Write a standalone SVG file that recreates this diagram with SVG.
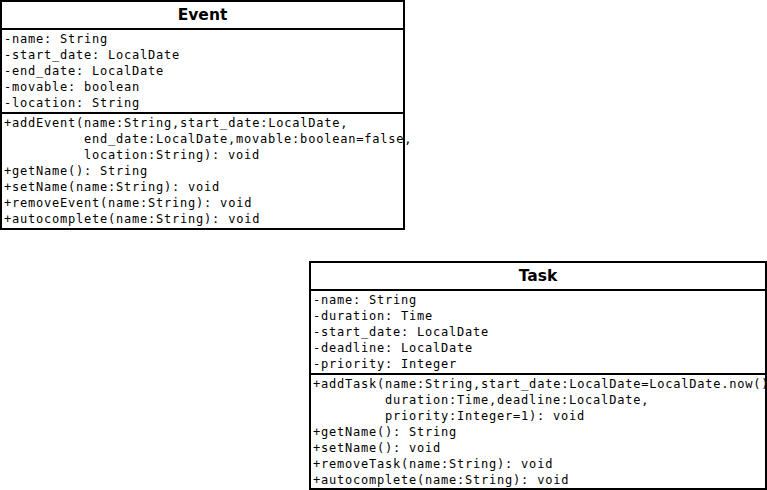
<svg xmlns="http://www.w3.org/2000/svg" width="767" height="490" viewBox="0 0 767 490">
<style>
.box{fill:#fff;stroke:#000;stroke-width:2}
.sep{stroke:#000;stroke-width:2}
.t{font-family:"DejaVu Sans","Liberation Sans",sans-serif;font-weight:bold;font-size:15.5px;text-anchor:middle;fill:#000}
.m{font-family:"DejaVu Sans Mono","Liberation Mono",monospace;font-size:12px;letter-spacing:0.78px;fill:#000;white-space:pre}
</style>
<rect width="767" height="490" fill="#fff"/>
<g id="Event">
<rect class="box" x="1" y="1" width="403" height="228"/>
<line class="sep" x1="1" y1="29" x2="404" y2="29"/>
<line class="sep" x1="1" y1="113" x2="404" y2="113"/>
<text class="t" x="202.5" y="20">Event</text>
<text class="m" x="4" y="43">-name: String</text>
<text class="m" x="4" y="59">-start_date: LocalDate</text>
<text class="m" x="4" y="75">-end_date: LocalDate</text>
<text class="m" x="4" y="91">-movable: boolean</text>
<text class="m" x="4" y="107">-location: String</text>
<text class="m" x="4" y="127">+addEvent(name:String,start_date:LocalDate,</text>
<text class="m" x="84" y="143">end_date:LocalDate,movable:boolean=false,</text>
<text class="m" x="84" y="159">location:String): void</text>
<text class="m" x="4" y="175">+getName(): String</text>
<text class="m" x="4" y="191">+setName(name:String): void</text>
<text class="m" x="4" y="207">+removeEvent(name:String): void</text>
<text class="m" x="4" y="223">+autocomplete(name:String): void</text>
</g>
<g id="Task">
<rect class="box" x="310" y="262" width="456" height="227"/>
<line class="sep" x1="310" y1="290" x2="766" y2="290"/>
<line class="sep" x1="310" y1="374" x2="766" y2="374"/>
<text class="t" x="538" y="281">Task</text>
<text class="m" x="313" y="304">-name: String</text>
<text class="m" x="313" y="320">-duration: Time</text>
<text class="m" x="313" y="336">-start_date: LocalDate</text>
<text class="m" x="313" y="352">-deadline: LocalDate</text>
<text class="m" x="313" y="368">-priority: Integer</text>
<text class="m" x="313" y="388">+addTask(name:String,start_date:LocalDate=LocalDate.now()</text>
<text class="m" x="385" y="404">duration:Time,deadline:LocalDate,</text>
<text class="m" x="385" y="420">priority:Integer=1): void</text>
<text class="m" x="313" y="436">+getName(): String</text>
<text class="m" x="313" y="452">+setName(): void</text>
<text class="m" x="313" y="468">+removeTask(name:String): void</text>
<text class="m" x="313" y="484">+autocomplete(name:String): void</text>
</g>
<g id="connectors"></g>
</svg>
